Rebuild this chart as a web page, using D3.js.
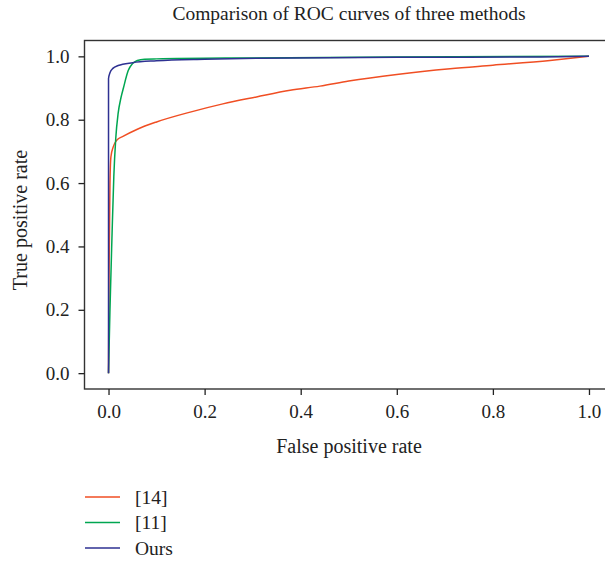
<!DOCTYPE html>
<html>
<head>
<meta charset="utf-8">
<script src="https://cdn.jsdelivr.net/npm/d3@7"></script>
<style>
  body { margin: 0; background: #fff; }
  text { font-family: "Liberation Serif", "DejaVu Serif", serif; fill: #222; }
</style>
</head>
<body>
<svg width="605" height="566"></svg>
<script>
// series names and colours
var methods = ["[14]", "[11]", "Ours"];
var colors = ["#f04e23", "#00a651", "#2e3192"];

// ROC points, [fpr, tpr]
var roc14 = [[0, 0], [0.001, 0.3], [0.003, 0.6], [0.005, 0.683], [0.01, 0.715], [0.017, 0.735],
    [0.031, 0.748], [0.06, 0.77], [0.1, 0.793], [0.17, 0.824], [0.238, 0.85], [0.308, 0.872],
    [0.378, 0.893], [0.44, 0.906], [0.5, 0.922], [0.6, 0.943], [0.711, 0.961], [0.8, 0.972],
    [0.919, 0.987], [1, 1]];
var roc11 = [[0, 0], [0.003, 0.2], [0.007, 0.42], [0.011, 0.62], [0.015, 0.74], [0.02, 0.82],
    [0.026, 0.87], [0.031, 0.9], [0.041, 0.955], [0.05, 0.977], [0.06, 0.987], [0.075, 0.991],
    [0.1, 0.992], [0.3, 0.995], [0.6, 0.998], [1, 1]];
var rocOurs = [[0, 0], [0, 0.93], [0.003, 0.948], [0.009, 0.962], [0.02, 0.971], [0.05, 0.98],
    [0.1, 0.986], [0.2, 0.991], [0.31, 0.994], [0.6, 0.997], [0.9, 0.998], [1, 1]];
var series = [roc14, roc11, rocOurs];

var xTicks = [0, 0.2, 0.4, 0.6, 0.8, 1.0];
var yTicks = [0, 0.2, 0.4, 0.6, 0.8, 1.0];

var svg = d3.select("svg");

var xScale = d3.scaleLinear().domain([-0.05, 1.05]).range([84.5, 613]),
    yScale = d3.scaleLinear().domain([-0.05, 1.05]).range([389, 40.5]);

// frame (right edge falls outside the picture)
svg.append("rect")
    .attr("x", xScale(-0.05))
    .attr("y", yScale(1.05))
    .attr("width", xScale(1.05) - xScale(-0.05))
    .attr("height", yScale(-0.05) - yScale(1.05))
    .attr("fill", "none")
    .attr("stroke", "#333")
    .attr("stroke-width", 1.4);

var xAxis = svg.append("g")
    .attr("transform", "translate(0," + yScale(-0.05) + ")")
    .call(d3.axisBottom(xScale).tickValues(xTicks).tickFormat(d3.format(".1f")).tickSize(6).tickPadding(10));

var yAxis = svg.append("g")
    .attr("transform", "translate(" + xScale(-0.05) + ",0)")
    .call(d3.axisLeft(yScale).tickValues(yTicks).tickFormat(d3.format(".1f")).tickSize(6).tickPadding(9));

[xAxis, yAxis].forEach(function(a) {
    a.attr("font-size", 19).attr("font-family", "Liberation Serif");
    a.select(".domain").remove();
    a.selectAll(".tick line").attr("stroke", "#222").attr("stroke-width", 1.3);
    a.selectAll(".tick text").attr("fill", "#222");
});

var line = d3.line()
    .x(function(d) { return xScale(d[0]); })
    .y(function(d) { return yScale(d[1]); })
    .curve(d3.curveMonotoneX);

svg.selectAll(".roc")
    .data(series)
    .enter().append("path")
    .attr("class", "roc")
    .attr("d", line)
    .attr("fill", "none")
    .attr("stroke", function(d, i) { return colors[i]; })
    .attr("stroke-width", 1.5);

// title and axis labels
svg.append("text")
    .attr("x", 349).attr("y", 20)
    .attr("text-anchor", "middle")
    .style("font-size", "19.5px")
    .text("Comparison of ROC curves of three methods");

svg.append("text")
    .attr("x", 349).attr("y", 453)
    .attr("text-anchor", "middle")
    .style("font-size", "20px")
    .text("False positive rate");

svg.append("text")
    .attr("transform", "translate(27,220) rotate(-90)")
    .attr("text-anchor", "middle")
    .style("font-size", "20px")
    .text("True positive rate");

// legend
var legend = svg.selectAll(".legend")
    .data(methods)
    .enter().append("g")
    .attr("class", "legend")
    .attr("transform", function(d, i) { return "translate(85," + (497 + i * 25.5) + ")"; });

legend.append("line")
    .attr("x1", 0).attr("x2", 35)
    .attr("stroke", function(d, i) { return colors[i]; })
    .attr("stroke-width", 1.5);

legend.append("text")
    .attr("x", 50).attr("y", 6.5)
    .style("font-size", "19.5px")
    .text(function(d) { return d; });
</script>
</body>
</html>
